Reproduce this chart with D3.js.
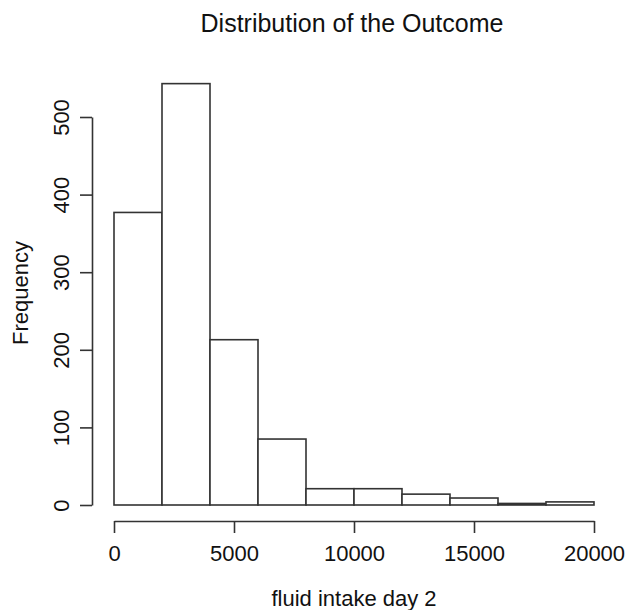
<!DOCTYPE html>
<html>
<head>
<meta charset="utf-8">
<script src="https://cdn.jsdelivr.net/npm/d3@7"></script>
<style>
  body { margin: 0; background: #fff; }
  text { font-family: "Liberation Sans", Arial, sans-serif; fill: #111; }
</style>
</head>
<body>
<div id="chart"></div>
<script>
var width = 627;
var height = 610;

// histogram bins (lower edge) and counts
var binStarts = [0, 2000, 4000, 6000, 8000, 10000, 12000, 14000, 16000, 18000];
var binWidth = 2000;
var counts = [377, 543, 213, 85, 21, 21, 14, 9, 2, 4];
var xTicks = [0, 5000, 10000, 15000, 20000];
var yTicks = [0, 100, 200, 300, 400, 500];

var x = d3.scaleLinear().domain([0, 20000]).range([114, 594]);
var y = d3.scaleLinear().domain([0, 500]).range([505, 117]);

var svg = d3.select("#chart").append("svg")
  .attr("width", width)
  .attr("height", height);

svg.selectAll(".bar")
  .data(binStarts)
  .enter().append("rect")
  .attr("class", "bar")
  .attr("x", function(d) { return x(d); })
  .attr("width", function(d) { return x(d + binWidth) - x(d); })
  .attr("y", function(d, i) { return y(counts[i]); })
  .attr("height", function(d, i) { return y(0) - y(counts[i]); })
  .attr("fill", "#fff")
  .attr("stroke", "#333")
  .attr("stroke-width", 1.6);

// x axis
var xAxis = svg.append("g")
  .attr("transform", "translate(0,521)")
  .call(d3.axisBottom(x).tickValues(xTicks).tickFormat(d3.format("d"))
    .tickSize(12).tickPadding(12).tickSizeOuter(0));
xAxis.select(".domain").attr("stroke", "#333").attr("stroke-width", 1.6);
xAxis.selectAll(".tick line").attr("stroke", "#333").attr("stroke-width", 1.6);
xAxis.selectAll("text").style("font-size", "22px").attr("fill", "#111");

// y axis
var yAxis = svg.append("g")
  .attr("transform", "translate(92,0)")
  .call(d3.axisLeft(y).tickValues(yTicks).tickFormat(d3.format("d"))
    .tickSize(12).tickPadding(0).tickSizeOuter(0));
yAxis.select(".domain").attr("stroke", "#333").attr("stroke-width", 1.6);
yAxis.selectAll(".tick line").attr("stroke", "#333").attr("stroke-width", 1.6);
yAxis.selectAll("text")
  .style("font-size", "22px")
  .attr("fill", "#111")
  .attr("x", 0)
  .attr("dy", 0)
  .attr("text-anchor", "middle")
  .attr("transform", "translate(-23,0) rotate(-90)");

svg.append("text")
  .attr("x", 352).attr("y", 32)
  .attr("text-anchor", "middle")
  .style("font-size", "25px")
  .text("Distribution of the Outcome");

svg.append("text")
  .attr("x", 354).attr("y", 606)
  .attr("text-anchor", "middle")
  .style("font-size", "22px")
  .text("fluid intake day 2");

svg.append("text")
  .attr("transform", "translate(28,293) rotate(-90)")
  .attr("text-anchor", "middle")
  .style("font-size", "22px")
  .text("Frequency");
</script>
</body>
</html>
